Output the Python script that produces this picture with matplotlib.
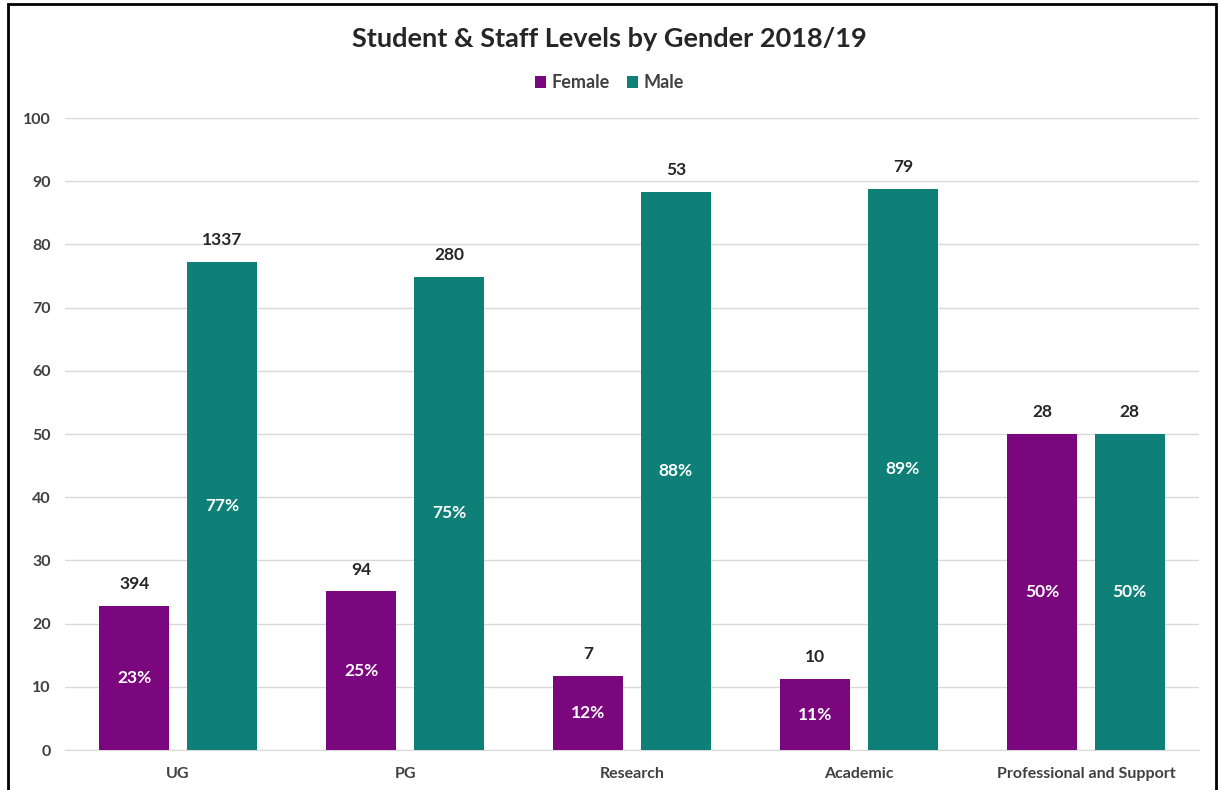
import numpy as np
import matplotlib.pyplot as plt
from matplotlib.patches import Rectangle

plt.rcParams['font.family'] = ['Lato', 'DejaVu Sans']

categories = ['UG', 'PG', 'Research', 'Academic', 'Professional and Support']
female_pct = [22.8, 25.1, 11.7, 11.2, 50.0]
male_pct = [77.2, 74.9, 88.3, 88.8, 50.0]
female_count = [394, 94, 7, 10, 28]
male_count = [1337, 280, 53, 79, 28]
female_lbl = ['23%', '25%', '12%', '11%', '50%']
male_lbl = ['77%', '75%', '88%', '89%', '50%']

female_color = '#7B077F'
male_color = '#0E8078'
text_color = '#262626'

fig = plt.figure(figsize=(12.19, 7.9), dpi=100)
ax = fig.add_axes([0.053, 0.0506, 0.931, 0.80])

x = np.arange(len(categories))
w = 0.31
off = 0.193
bf = ax.bar(x - off, female_pct, w, color=female_color, label='Female', zorder=3)
bm = ax.bar(x + off, male_pct, w, color=male_color, label='Male', zorder=3)

for bars, counts, lbls in [(bf, female_count, female_lbl), (bm, male_count, male_lbl)]:
    for b, c, l in zip(bars, counts, lbls):
        cx = b.get_x() + b.get_width() / 2
        h = b.get_height()
        ax.annotate(str(c), (cx, h), xytext=(0, 10), textcoords='offset points',
                    ha='center', va='bottom', fontsize=12.5, fontweight='bold', color=text_color)
        ax.text(cx, h / 2, l, ha='center', va='center', fontsize=12.5,
                fontweight='bold', color='white', zorder=4)

ax.set_xlim(-0.5, len(categories) - 0.5)
ax.set_ylim(0, 100)
ax.set_yticks(range(0, 101, 10))
ax.set_xticks(x)
ax.set_xticklabels(categories)
ax.grid(axis='y', color='#D9D9D9', linewidth=1, zorder=0)
for s in ax.spines.values():
    s.set_visible(False)
ax.spines['bottom'].set_visible(True)
ax.spines['bottom'].set_color('#D9D9D9')
ax.tick_params(length=0, labelsize=11.5, colors='#404040', pad=12)
ax.tick_params(axis='y', pad=10)
for t in ax.get_xticklabels() + ax.get_yticklabels():
    t.set_fontweight('bold')

fig.text(0.5, 0.951, 'Student & Staff Levels by Gender 2018/19', ha='center', va='center',
         fontsize=19.5, fontweight='bold', color=text_color)
fig.legend(handles=[bf, bm], loc='center', bbox_to_anchor=(0.5, 0.895), ncol=2, frameon=False,
           prop={'weight': 'bold', 'size': 13}, labelcolor='#404040', handlelength=0.6,
           handleheight=0.6, handletextpad=0.3, columnspacing=1.0)

fig.add_artist(Rectangle((8 / 1219, -0.01), 1208 / 1219, 1 - 4 / 790 + 0.01, transform=fig.transFigure,
                         fill=False, edgecolor='black', linewidth=2))

fig.savefig('out.png', dpi=100)
